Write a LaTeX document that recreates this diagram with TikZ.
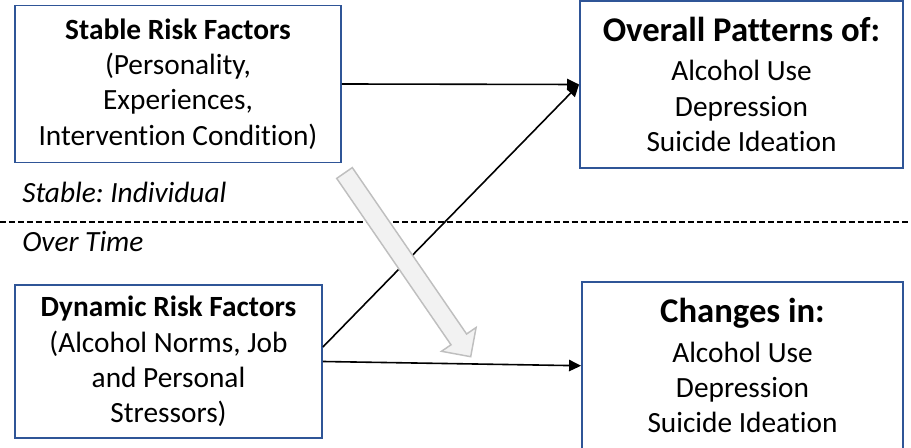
\documentclass[tikz,border=0pt]{standalone}
\usepackage{fontspec}
\setmainfont{Carlito}[Ligatures=NoCommon]
\frenchspacing
\usetikzlibrary{arrows.meta}
\definecolor{boxblue}{HTML}{2F5597}
\definecolor{arrowfill}{HTML}{F2F2F2}
\definecolor{arrowedge}{HTML}{BFBFBF}
\tikzset{
  factorbox/.style={draw=boxblue, line width=1.4pt, rectangle, inner sep=0pt,
    align=center, font=\fontsize{22}{26.5}\selectfont},
  link/.style={line width=1.2pt, -{Triangle[length=9pt,width=8.5pt]}},
  sidelabel/.style={anchor=base west, inner sep=0pt, font=\fontsize{22}{26.5}\selectfont\itshape},
  bigarrow/.style={fill=arrowfill, draw=arrowedge, line width=1.1pt, line join=miter},
  divider/.style={line width=1.3pt, dash pattern=on 4.5pt off 2.2pt}
}
\newcommand{\headtext}[1]{{\fontsize{26}{30}\selectfont\bfseries #1}}
\begin{document}
\begin{tikzpicture}[x=0.75pt,y=-0.75pt]
\useasboundingbox (0,0) rectangle (911,448);

% dashed divider
\coordinate (dl) at (0,222);
\coordinate (dr) at (911,222);
\draw[divider] (dl) -- (dr);

% boxes
\node[factorbox, minimum width=326*0.75pt, minimum height=157*0.75pt] (stable) at (178,84)
  {\textbf{Stable Risk Factors}\\(Personality,\\Experiences,\\Intervention Condition)};
\node[factorbox, minimum width=323*0.75pt, minimum height=167*0.75pt] (overall) at (741.5,84.5)
  {\headtext{Overall Patterns of:}\\[3pt]Alcohol Use\\Depression\\Suicide Ideation};
\node[factorbox, minimum width=307*0.75pt, minimum height=153*0.75pt] (dynamic) at (168.5,361.5)
  {\textbf{Dynamic Risk Factors}\\(Alcohol Norms, Job\\and Personal\\Stressors)};
\node[factorbox, minimum width=321*0.75pt, minimum height=167.5*0.75pt] (changes) at (742.5,365.75)
  {\headtext{Changes in:}\\[3pt]Alcohol Use\\Depression\\Suicide Ideation};

% side labels
\node[sidelabel] (lblstable) at (22,203) {Stable: Individual};
\node[sidelabel] (lbltime) at (22,252) {Over Time};

% connectors
\draw[link] (stable.east) -- (overall.west);
\draw[link] ([yshift=10.9pt]dynamic.east) -- (overall.west);
\draw[link] (dynamic.east) -- (changes.west);

% big grey arrow (drawn on top)
\draw[bigarrow] (352.3,167.6) -- (466.6,334.0) -- (476.1,327.5) -- (470.7,356.7)
  -- (441.5,351.3) -- (451.0,344.8) -- (336.7,178.4) -- cycle;
\end{tikzpicture}
\end{document}
